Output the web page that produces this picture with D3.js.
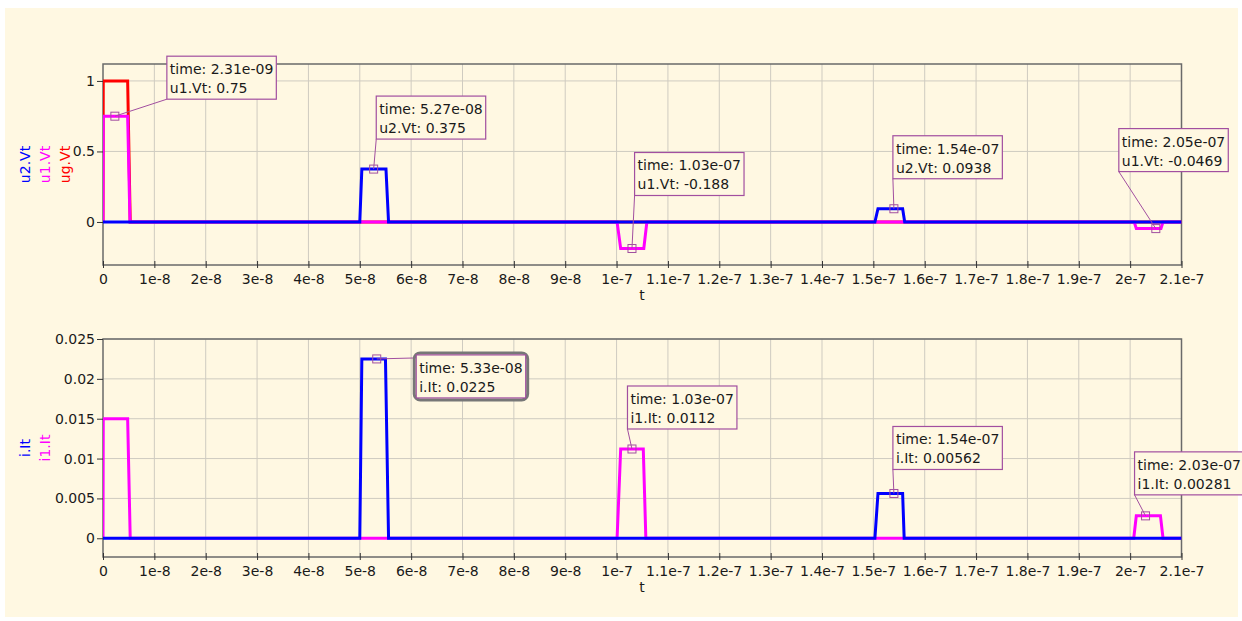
<!DOCTYPE html>
<html><head><meta charset="utf-8">
<script src="https://cdn.jsdelivr.net/npm/d3@7"></script>
<style>
html,body{margin:0;padding:0;background:#ffffff;}
svg{display:block;font-family:"DejaVu Sans",sans-serif;}
</style></head><body>
<svg id="chart" width="1242" height="621"></svg>
<script>
// ---------- DATA ----------
const xTickValues = [0,1e-8,2e-8,3e-8,4e-8,5e-8,6e-8,7e-8,8e-8,9e-8,1e-7,1.1e-7,1.2e-7,1.3e-7,1.4e-7,1.5e-7,1.6e-7,1.7e-7,1.8e-7,1.9e-7,2e-7,2.1e-7];
const xTickLabels = ["0","1e-8","2e-8","3e-8","4e-8","5e-8","6e-8","7e-8","8e-8","9e-8","1e-7","1.1e-7","1.2e-7","1.3e-7","1.4e-7","1.5e-7","1.6e-7","1.7e-7","1.8e-7","1.9e-7","2e-7","2.1e-7"];
const topYTicks = [0,0.5,1];
const topYTickLabels = ["0","0.5","1"];
const botYTicks = [0,0.005,0.01,0.015,0.02,0.025];
const botYTickLabels = ["0","0.005","0.01","0.015","0.02","0.025"];

// top plot series
const ugTime = [0,0.05e-9,4.8e-9,5.3e-9,2.1e-7];
const ugVal  = [0,1,1,0,0];
const u1Time = [0,0.05e-9,4.8e-9,5.25e-9,100.1e-9,100.8e-9,105.3e-9,105.9e-9,200.8e-9,201.2e-9,206.0e-9,206.4e-9,2.1e-7];
const u1Val  = [0,0.75,0.75,0,0,-0.1875,-0.1875,0,0,-0.0469,-0.0469,0,0];
const u2Time = [0,50.0e-9,50.4e-9,55.1e-9,55.6e-9,150.3e-9,150.9e-9,155.7e-9,156.1e-9,2.1e-7];
const u2Val  = [0,0,0.375,0.375,0,0,0.0938,0.0938,0,0];

// bottom plot series
const i1Time = [0,0.05e-9,4.8e-9,5.3e-9,100.1e-9,100.8e-9,105.2e-9,105.7e-9,200.7e-9,201.2e-9,205.9e-9,206.4e-9,2.1e-7];
const i1Val  = [0,0.015,0.015,0,0,0.0112,0.0112,0,0,0.00281,0.00281,0,0];
const iTime  = [0,50.0e-9,50.4e-9,55.0e-9,55.6e-9,150.3e-9,150.9e-9,155.7e-9,156.0e-9,2.1e-7];
const iVal   = [0,0,0.0225,0.0225,0,0,0.00562,0.00562,0,0];

// markers (data readouts)
const topMarkTime  = [2.31e-9,5.27e-8,1.03e-7,1.54e-7,2.05e-7];
const topMarkValue = [0.75,0.375,-0.188,0.0938,-0.0469];
const topMarkName  = ["u1.Vt","u2.Vt","u1.Vt","u2.Vt","u1.Vt"];
const topMarkLabel = ["2.31e-09","5.27e-08","1.03e-07","1.54e-07","2.05e-07"];
const botMarkTime  = [5.33e-8,1.03e-7,1.54e-7,2.03e-7];
const botMarkValue = [0.0225,0.0112,0.00562,0.00281];
const botMarkName  = ["i.It","i1.It","i.It","i1.It"];
const botMarkLabel = ["5.33e-08","1.03e-07","1.54e-07","2.03e-07"];

// ---------- LAYOUT ----------
const topBoxOffset = [[52,-60],[2.6,-73],[2.6,-96],[-1,-73],[-37,-100]];
const botBoxOffset = [[39.5,-4],[-4.5,-63],[-1,-67],[-11,-64]];
const botSelected = [true,false,false,false];

const W = 1242, H = 621;
const svg = d3.select("#chart");
const BG = "#fff8e2";
const FRAME = "#6a6a6a";
const GRID = "#cfcbc0";
const BOXC = "#a24fa0";
svg.append("rect").attr("x",5).attr("y",8).attr("width",1233).attr("height",609).attr("fill",BG);

const x = d3.scaleLinear().domain([0,2.1e-7]).range([103,1181.5]);
const yTop = d3.scaleLinear().domain([-0.305,1.12]).range([265,64]);
const yBot = d3.scaleLinear().domain([-0.00235,0.025]).range([557,339]);

function zip(t,v){ return t.map((d,i)=>[d,v[i]]); }

function drawPanel(y, yTicks, yLabels, series, axisLabels, markers, offsets, selected, clipId){
  const [y0,y1] = y.range(); // bottom, top
  const g = svg.append("g");
  // grid
  g.append("g").selectAll("line").data(xTickValues.slice(1,-1)).join("line")
    .attr("x1",d=>x(d)).attr("x2",d=>x(d)).attr("y1",y1).attr("y2",y0)
    .attr("stroke",GRID).attr("stroke-width",1);
  g.append("g").selectAll("line").data(yTicks).join("line")
    .attr("x1",x.range()[0]).attr("x2",x.range()[1]).attr("y1",d=>y(d)).attr("y2",d=>y(d))
    .attr("stroke",GRID).attr("stroke-width",1);
  // frame
  g.append("rect").attr("x",x.range()[0]).attr("y",y1)
    .attr("width",x.range()[1]-x.range()[0]).attr("height",y0-y1)
    .attr("fill","none").attr("stroke",FRAME).attr("stroke-width",1.5);
  // x axis
  const xa = g.append("g").attr("transform",`translate(0,${y0})`)
    .call(d3.axisBottom(x).tickValues(xTickValues).tickFormat((d,i)=>xTickLabels[i]).tickSize(3));
  xa.select(".domain").remove();
  xa.selectAll(".tick line").attr("y1",-4).attr("y2",3).attr("stroke","#333");
  xa.selectAll(".tick text").attr("y",19).attr("dy",null).attr("fill","#1a1a1a")
    .style("font-size","14px").style("font-family","DejaVu Sans");
  g.append("text").attr("x",642).attr("y",y0+35).attr("text-anchor","middle")
    .style("font-size","14px").attr("fill","#1a1a1a").text("t");
  // y axis
  const ya = g.append("g").attr("transform",`translate(${x.range()[0]},0)`)
    .call(d3.axisLeft(y).tickValues(yTicks).tickFormat((d,i)=>yLabels[i]).tickSize(6));
  ya.select(".domain").remove();
  ya.selectAll(".tick line").attr("stroke","#333");
  ya.selectAll(".tick text").attr("x",-8).attr("fill","#1a1a1a")
    .style("font-size","14px").style("font-family","DejaVu Sans");
  // rotated axis labels
  const yc = (y0+y1)/2;
  axisLabels.forEach((a,i)=>{
    g.append("text").attr("transform",`translate(${30+20*i},${yc}) rotate(-90)`)
      .attr("text-anchor","middle").style("font-size","14px").attr("fill",a.color).text(a.text);
  });
  // clip
  svg.append("clipPath").attr("id",clipId).append("rect")
    .attr("x",x.range()[0]).attr("y",y1).attr("width",x.range()[1]-x.range()[0]).attr("height",y0-y1);
  const line = d3.line().x(d=>x(d[0])).y(d=>y(d[1]));
  const sg = g.append("g").attr("clip-path",`url(#${clipId})`);
  series.forEach(s=>{
    sg.append("path").datum(s.pts).attr("d",line).attr("fill","none")
      .attr("stroke",s.color).attr("stroke-width",3).attr("stroke-linejoin","miter");
  });
  // markers and callouts
  markers.forEach((m,i)=>{
    const px = x(m.time), py = y(m.value);
    const left = px+offsets[i][0], top = py+offsets[i][1];
    const cg = g.append("g");
    const lines = [`time: ${m.label}`, `${m.name}: ${m.valueText}`];
    const tg = cg.append("g");
    const texts = lines.map((t,k)=> tg.append("text").attr("x",left+3).attr("y",top+18+k*19)
      .style("font-size","14px").attr("fill","#1a1a1a").text(t));
    const tw = d3.max(texts,t=>t.node().getComputedTextLength());
    const bw = tw+6, bh = 43;
    // leader target
    let tx = left, ty = top+bh;
    if (py < top+bh && py > top) { ty = top+3; }
    cg.insert("line",":first-child").attr("x1",px).attr("y1",py).attr("x2",tx).attr("y2",ty)
      .attr("stroke",BOXC).attr("stroke-width",1);
    if (selected[i]) {
      cg.insert("rect","g").attr("x",left-2).attr("y",top-2).attr("width",bw+4).attr("height",bh+4)
        .attr("rx",6).attr("fill",BG).attr("stroke","#777").attr("stroke-width",3);
    }
    cg.insert("rect","g").attr("x",left).attr("y",top).attr("width",bw).attr("height",bh)
      .attr("fill",BG).attr("stroke",BOXC).attr("stroke-width",1.2);
    cg.append("rect").attr("x",px-4).attr("y",py-4).attr("width",8).attr("height",8)
      .attr("fill","none").attr("stroke",BOXC).attr("stroke-width",1);
  });
}

drawPanel(yTop, topYTicks, topYTickLabels,
  [{pts:zip(ugTime,ugVal),color:"#ff0000"},{pts:zip(u1Time,u1Val),color:"#ff00ff"},{pts:zip(u2Time,u2Val),color:"#0000ff"}],
  [{text:"u2.Vt",color:"#0000ff"},{text:"u1.Vt",color:"#ff00ff"},{text:"ug.Vt",color:"#ff0000"}],
  topMarkTime.map((t,i)=>({time:t,value:topMarkValue[i],name:topMarkName[i],label:topMarkLabel[i],valueText:String(topMarkValue[i])})),
  topBoxOffset, [false,false,false,false,false], "clipTop");

drawPanel(yBot, botYTicks, botYTickLabels,
  [{pts:zip(i1Time,i1Val),color:"#ff00ff"},{pts:zip(iTime,iVal),color:"#0000ff"}],
  [{text:"i.It",color:"#0000ff"},{text:"i1.It",color:"#ff00ff"}],
  botMarkTime.map((t,i)=>({time:t,value:botMarkValue[i],name:botMarkName[i],label:botMarkLabel[i],valueText:String(botMarkValue[i])})),
  botBoxOffset, botSelected, "clipBot");
</script>
</body></html>
